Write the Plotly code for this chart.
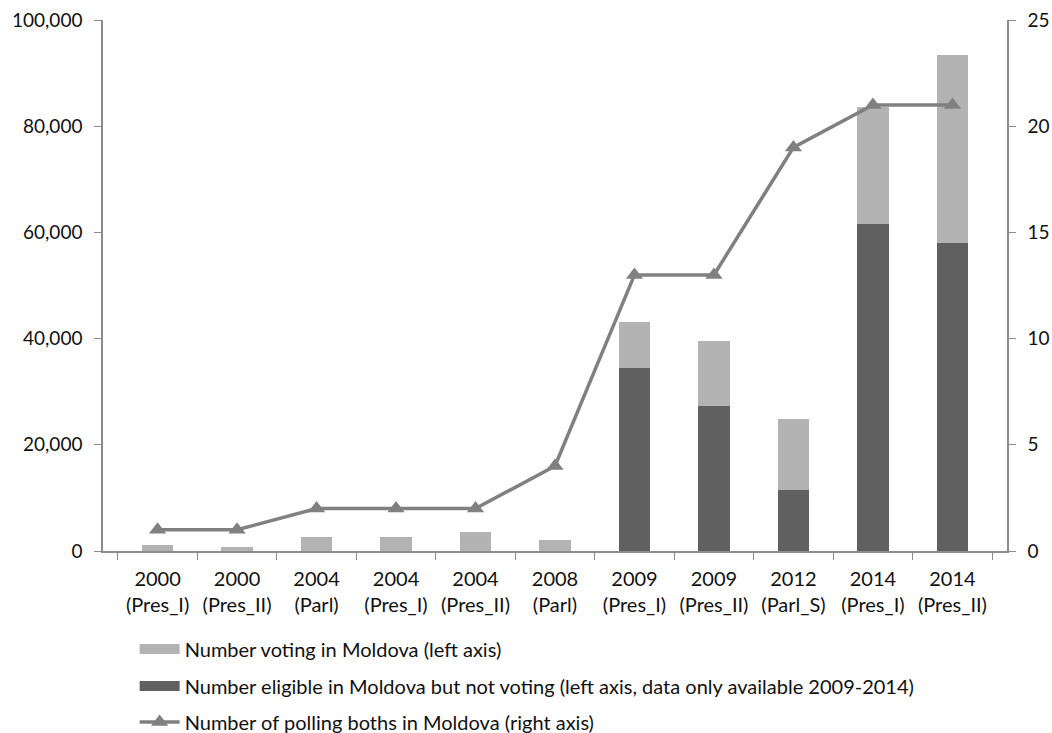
import plotly.graph_objects as go

# Elections (year + round/type)
categories = ["2000<br>(Pres_I)", "2000<br>(Pres_II)", "2004<br>(Parl)", "2004<br>(Pres_I)",
              "2004<br>(Pres_II)", "2008<br>(Parl)", "2009<br>(Pres_I)", "2009<br>(Pres_II)",
              "2012<br>(Parl_S)", "2014<br>(Pres_I)", "2014<br>(Pres_II)"]

# Left axis: people
voting = [1100, 800, 2600, 2600, 3600, 2100, 8700, 12200, 13500, 22100, 35400]
eligible_not_voting = [None, None, None, None, None, None, 34400, 27300, 11400, 61600, 58000]

# Right axis: polling booths
polling_booths = [1, 1, 2, 2, 2, 4, 13, 13, 19, 21, 21]

NAME_VOTING = "Number voting in Moldova (left axis)"
NAME_ELIGIBLE = "Number eligible in Moldova but not voting (left axis, data only available 2009-2014)"
NAME_BOOTHS = "Number of polling boths in Moldova (right axis)"

FONT = "Lato"
TICK_SIZE = 19
LEGEND_SIZE = 20
TEXT = "#111111"
LIGHT = "#b3b3b3"
DARK = "#606060"
LINE = "#808080"
AXIS = "#8c8c8c"

fig = go.Figure()
fig.add_trace(go.Bar(
    x=categories, y=eligible_not_voting, marker_color=DARK, marker_line_width=0,
    name=NAME_ELIGIBLE, showlegend=False,
))
fig.add_trace(go.Bar(
    x=categories, y=voting, marker_color=LIGHT, marker_line_width=0,
    name=NAME_VOTING, showlegend=False,
))
fig.add_trace(go.Scatter(
    x=categories, y=polling_booths, yaxis="y2", mode="lines+markers",
    line=dict(color=LINE, width=3.5),
    marker=dict(symbol="triangle-up", size=15, color=LINE),
    name=NAME_BOOTHS, legend="legend4",
))

# Legend keys for the bar series: wide rectangular swatches
for name, color, leg in [(NAME_VOTING, LIGHT, "legend2"), (NAME_ELIGIBLE, DARK, "legend3")]:
    fig.add_trace(go.Scatter(
        x=[None], y=[None], mode="lines", line=dict(color=color, width=14),
        name=name, legend=leg, hoverinfo="skip",
    ))

legend_common = dict(font=dict(family=FONT, size=LEGEND_SIZE, color=TEXT),
                     xref="container", yref="container", xanchor="left",
                     yanchor="middle", bgcolor="rgba(0,0,0,0)", itemwidth=40)
tickfont = dict(family=FONT, size=TICK_SIZE, color=TEXT)

H = 733
fig.update_layout(
    width=1052, height=H,
    margin=dict(l=103, r=45, t=20, b=182, autoexpand=False),
    paper_bgcolor="white", plot_bgcolor="white",
    barmode="stack", bargap=0.6,
    font=dict(family=FONT, size=TICK_SIZE, color=TEXT),
    xaxis=dict(
        showline=True, linecolor=AXIS, linewidth=1.5,
        ticks="outside", tickson="boundaries", ticklen=7, tickcolor=AXIS,
        ticklabelstandoff=9,
        tickfont=dict(family=FONT, size=20, color=TEXT), showgrid=False, automargin=False,
    ),
    yaxis=dict(
        range=[0, 100000], dtick=20000, tickformat=",",
        showline=True, linecolor=AXIS, linewidth=1.5,
        ticks="outside", ticklen=7, tickcolor=AXIS, ticklabelstandoff=8,
        showgrid=False, zeroline=False, tickfont=tickfont, automargin=False,
    ),
    yaxis2=dict(
        range=[0, 25], dtick=5, overlaying="y", side="right",
        showline=True, linecolor=AXIS, linewidth=1.5,
        ticks="outside", ticklen=7, tickcolor=AXIS, ticklabelstandoff=8,
        showgrid=False, zeroline=False, tickfont=tickfont, automargin=False,
    ),
    showlegend=True,
    legend2=dict(x=0.128, y=1 - 649 / H, **legend_common),
    legend3=dict(x=0.128, y=1 - 686 / H, **legend_common),
    legend4=dict(x=0.128, y=1 - 722 / H, **legend_common),
)

fig.write_html("out.html")
